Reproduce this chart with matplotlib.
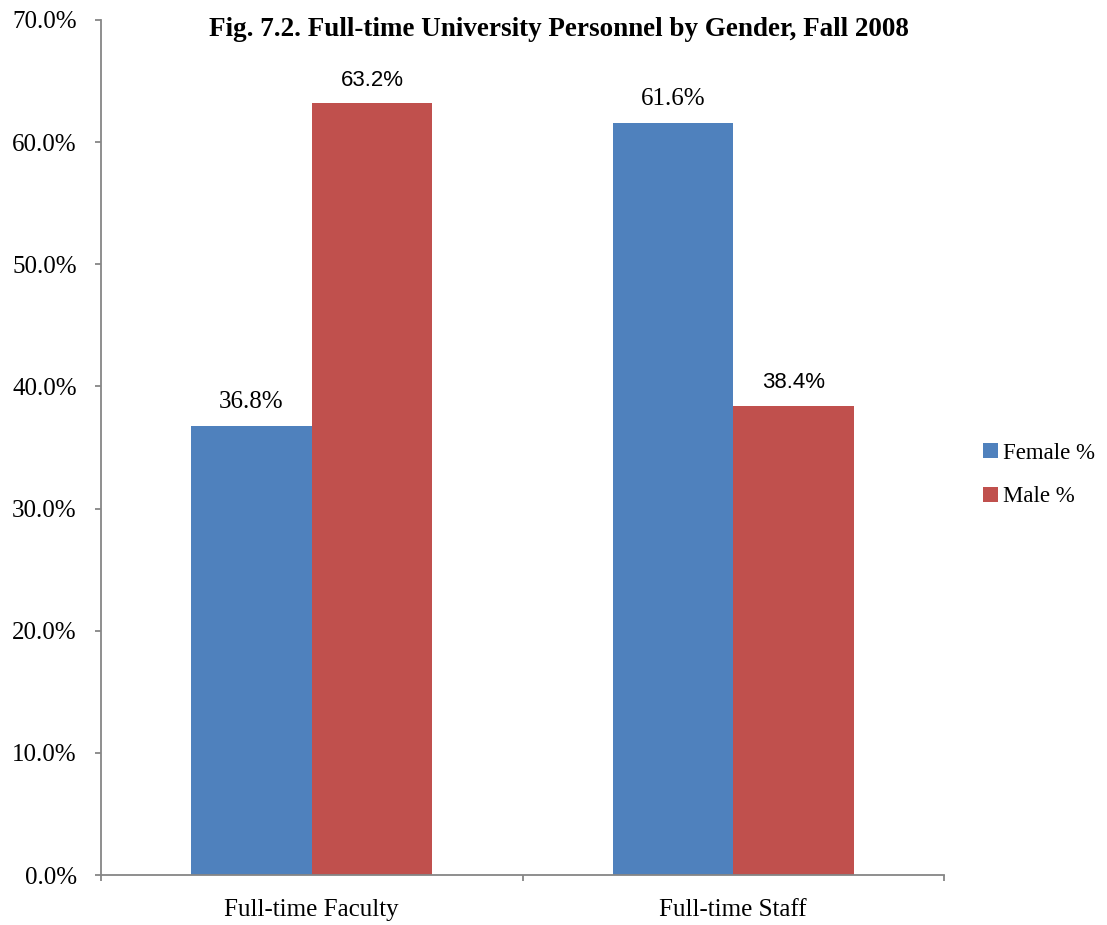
import matplotlib
matplotlib.use("Agg")
import matplotlib.pyplot as plt
import numpy as np

# donnees
categories = ["Full-time Faculty", "Full-time Staff"]
female = [36.8, 61.6]
male = [63.2, 38.4]
series_names = ["Female %", "Male %"]

serif = "Liberation Serif"
sans = "Liberation Sans"
gris = "#868686"

fig = plt.figure(figsize=(11.07, 9.25), dpi=100)
ax = fig.add_axes([101 / 1107, 50 / 925, (944 - 101) / 1107, (875 - 20) / 925])

x = np.arange(len(categories))
w = 1 / 3.5
b1 = ax.bar(x - w / 2, female, w, color="#4F81BD", label=series_names[0])
b2 = ax.bar(x + w / 2, male, w, color="#C0504D", label=series_names[1])

for rect, v in zip(b1, female):
    ax.annotate(f"{v:.1f}%", (rect.get_x() + rect.get_width() / 2, v),
                xytext=(0, 9), textcoords="offset points", ha="center",
                va="bottom", fontsize=18, family=serif)
for rect, v in zip(b2, male):
    ax.annotate(f"{v:.1f}%", (rect.get_x() + rect.get_width() / 2, v),
                xytext=(0, 9), textcoords="offset points", ha="center",
                va="bottom", fontsize=16, family=sans)

ax.set_xlim(-0.5, len(categories) - 0.5)
ax.set_ylim(0, 70)
ax.set_yticks(np.arange(0, 71, 10))
ax.set_yticklabels([f"{t:.1f}%" for t in np.arange(0, 71, 10)],
                   fontsize=18, family=serif)
# graduations entre les categories, etiquettes au centre
ax.set_xticks(np.arange(-0.5, len(categories), 1))
ax.set_xticklabels([])
ax.set_xticks(x, minor=True)
ax.set_xticklabels(categories, minor=True, fontsize=18, family=serif)
ax.tick_params(axis="x", which="minor", length=0, pad=17)
ax.tick_params(axis="x", which="major", length=4.5, color=gris, width=1.3)
ax.tick_params(axis="y", length=4.5, color=gris, width=1.3, pad=13)

for s in ["top", "right"]:
    ax.spines[s].set_visible(False)
for s in ["left", "bottom"]:
    ax.spines[s].set_color(gris)
    ax.spines[s].set_linewidth(1.3)

fig.text(559 / 1107, 1 - 30 / 925,
         "Fig. 7.2. Full-time University Personnel by Gender, Fall 2008",
         ha="center", va="center", fontsize=19.5, fontweight="bold", family=serif)

fig.legend(handles=[b1, b2], loc="center left", bbox_to_anchor=(962 / 1107, 1 - 475 / 925),
           frameon=False, prop={"family": serif, "size": 16.5},
           handlelength=0.65, handleheight=0.65, handletextpad=0.25, labelspacing=1.0)

fig.savefig("out.png", dpi=100)
